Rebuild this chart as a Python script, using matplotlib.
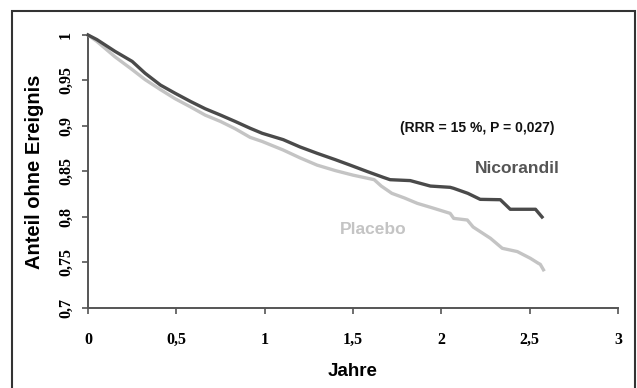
import matplotlib
matplotlib.use("Agg")
import matplotlib.pyplot as plt
from matplotlib.patches import Rectangle
from matplotlib.ticker import FuncFormatter

# ── data ─────────────────────────────────────────────────────────────────────
nic_t = [0, 0.05, 0.153, 0.25, 0.323, 0.41, 0.493, 0.58, 0.663, 0.75, 0.833,
         0.918, 0.986, 1.105, 1.2, 1.297, 1.4, 1.484, 1.58, 1.671, 1.71, 1.824,
         1.881, 1.938, 2.05, 2.07, 2.15, 2.22, 2.334, 2.39, 2.533, 2.57]
nic_v = [1.0, 0.995, 0.982, 0.971, 0.958, 0.945, 0.936, 0.927, 0.919, 0.912, 0.905,
         0.8975, 0.892, 0.885, 0.877, 0.870, 0.863, 0.857, 0.850, 0.8436, 0.841, 0.840,
         0.837, 0.834, 0.8326, 0.8315, 0.826, 0.8194, 0.819, 0.8085, 0.8085, 0.800]

pla_t = [0, 0.05, 0.153, 0.25, 0.323, 0.41, 0.493, 0.58, 0.663, 0.75, 0.833,
         0.918, 0.986, 1.105, 1.2, 1.297, 1.4, 1.5, 1.62, 1.66, 1.72, 1.79, 1.864,
         1.95, 2.05, 2.07, 2.147, 2.18, 2.278, 2.345, 2.43, 2.504, 2.55, 2.56, 2.578]
pla_v = [1.0, 0.993, 0.976, 0.962, 0.951, 0.940, 0.930, 0.921, 0.912, 0.905, 0.897,
         0.8875, 0.883, 0.8736, 0.865, 0.857, 0.851, 0.846, 0.841, 0.834, 0.826, 0.821, 0.815,
         0.810, 0.804, 0.7985, 0.7967, 0.789, 0.7766, 0.7656, 0.762, 0.7546, 0.749, 0.748, 0.742]

x_ticks = [0, 0.5, 1, 1.5, 2, 2.5, 3]
y_ticks = [0.7, 0.75, 0.8, 0.85, 0.9, 0.95, 1.0]

DARK  = "#4a4a4a"
LIGHT = "#c4c4c4"
AXIS  = "#555555"
SANS  = "Liberation Sans"
SERIF = "Liberation Serif"

fig = plt.figure(figsize=(6.37, 3.88), dpi=100, facecolor="white")

# outer frame
fig.add_artist(Rectangle((12/637, -0.02), (635-12)/637, 1 - 11/388 + 0.02,
                         transform=fig.transFigure, fill=False,
                         ec="#333333", lw=1.5))

ax = fig.add_axes([88/637, 1-308/388, (618-88)/637, (308-35)/388])
ax.set_xlim(0, 3)
ax.set_ylim(0.7, 1.0)

ax.plot(pla_t, pla_v, color=LIGHT, lw=2.4, clip_on=False, zorder=3)
ax.plot(nic_t, nic_v, color=DARK, lw=2.4, clip_on=False, zorder=4)

for s in ["top", "right"]:
    ax.spines[s].set_visible(False)
for s in ["left", "bottom"]:
    ax.spines[s].set_color(AXIS)
    ax.spines[s].set_linewidth(1.4)

def comma(v, pos):
    s = f"{v:g}"
    return s.replace(".", ",")

ax.set_xticks(x_ticks)
ax.set_yticks(y_ticks)
ax.xaxis.set_major_formatter(FuncFormatter(comma))
ax.yaxis.set_major_formatter(FuncFormatter(comma))
ax.tick_params(axis="both", direction="out", length=4, width=1.2, color=AXIS)
ax.tick_params(axis="x", pad=13)
ax.tick_params(axis="y", pad=6)
for lab in ax.get_xticklabels():
    lab.set_fontfamily(SERIF)
    lab.set_fontweight("bold")
    lab.set_fontsize(11.5)
for lab in ax.get_yticklabels():
    lab.set_fontfamily(SERIF)
    lab.set_fontweight("bold")
    lab.set_fontsize(11.5)
    lab.set_rotation(90)
    lab.set_va("center")

ax.set_xlabel("Jahre", fontfamily=SANS, fontweight="bold", fontsize=13.5, labelpad=11)
ax.set_ylabel("Anteil ohne Ereignis", fontfamily=SANS, fontweight="bold",
              fontsize=14.5, labelpad=10)

ax.text(2.204, 0.8978, "(RRR = 15 %, P = 0,027)", fontfamily=SANS, fontweight="bold",
        fontsize=10, ha="center", va="center", color="#111111")
ax.text(2.43, 0.8538, "Nicorandil", fontfamily=SANS, fontweight="bold",
        fontsize=12.5, ha="center", va="center", color="#555555")
ax.text(1.615, 0.7868, "Placebo", fontfamily=SANS, fontweight="bold",
        fontsize=12.5, ha="center", va="center", color=LIGHT)

plt.savefig("out.png", dpi=100, facecolor="white")
plt.close()
